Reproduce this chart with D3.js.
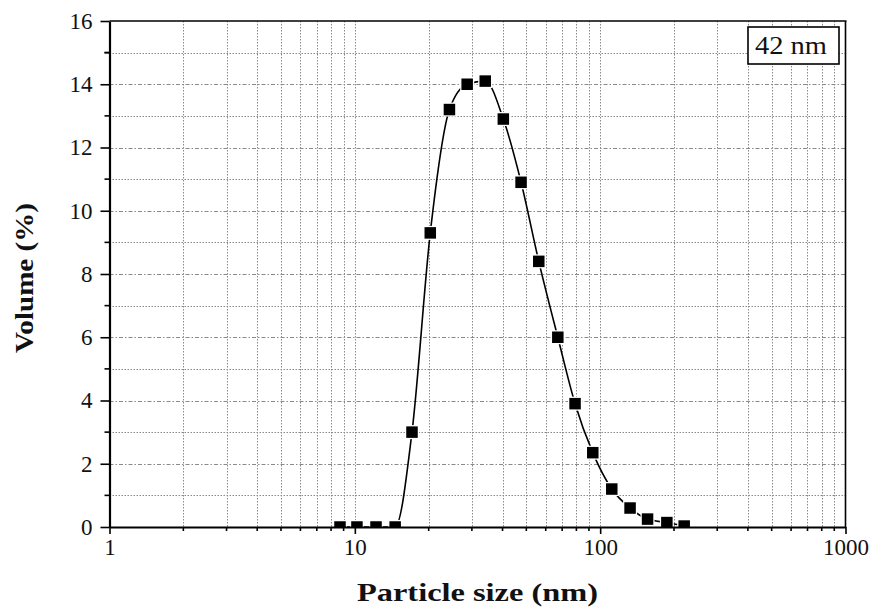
<!DOCTYPE html>
<html>
<head>
<meta charset="utf-8">
<script src="https://cdn.jsdelivr.net/npm/d3@7"></script>
<style>
  html, body { margin: 0; padding: 0; background: #fff; }
  svg { display: block; }
  text { font-family: "Liberation Serif", "Times New Roman", serif; fill: #111; }
</style>
</head>
<body>
<svg id="chart" width="871" height="609"></svg>
<script>
// Particle size distribution (volume %) measured on a log size scale
const sizes   = [8.7, 10.2, 12.2, 14.6, 17.1, 20.3, 24.3, 28.7, 34.0, 40.3, 47.6, 56.2, 67.2, 79.0, 93.3, 111.5, 132.4, 156, 187, 220];
const volumes = [0, 0, 0, 0, 3.0, 9.3, 13.2, 14.0, 14.1, 12.9, 10.9, 8.4, 6.0, 3.9, 2.35, 1.2, 0.6, 0.25, 0.14, 0.03];
const xTickLabels = [1, 10, 100, 1000];
const yTickLabels = [0, 2, 4, 6, 8, 10, 12, 14, 16];
const peakLabel = "42 nm";
const xTitle = "Particle size (nm)";
const yTitle = "Volume (%)";

const svg = d3.select("#chart");
const margin = { left: 109.5, right: 871 - 845.5, top: 21, bottom: 609 - 527 };
const W = 871, H = 609;
const x0 = margin.left, x1 = W - margin.right, y0 = H - margin.bottom, y1 = margin.top;

const x = d3.scaleLog().domain([1, 1000]).range([x0, x1]);
const y = d3.scaleLinear().domain([0, 16]).range([y0, y1]);

// minor decade positions 2..9 and the interior decades
const minorX = [];
[1, 10, 100].forEach(d => { for (let k = 2; k <= 9; k++) minorX.push(d * k); });
const gridX = minorX.concat([10, 100]);
const minorY = d3.range(1, 16, 2);
const majorY = d3.range(2, 16, 2);

const grid = svg.append("g").attr("stroke", "#8a8a8a").attr("stroke-width", 1).attr("fill", "none");
grid.selectAll(".gx").data(gridX).join("line")
  .attr("x1", d => Math.round(x(d)) + 0.5).attr("x2", d => Math.round(x(d)) + 0.5)
  .attr("y1", y1).attr("y2", y0)
  .attr("stroke-dasharray", "1.5,1.5");
grid.selectAll(".gmin").data(minorY).join("line")
  .attr("x1", x0).attr("x2", x1)
  .attr("y1", d => Math.round(y(d)) + 0.5).attr("y2", d => Math.round(y(d)) + 0.5)
  .attr("stroke-dasharray", "1.5,1.5");
grid.selectAll(".gmaj").data(majorY).join("line")
  .attr("x1", x0).attr("x2", x1)
  .attr("y1", d => Math.round(y(d)) + 0.5).attr("y2", d => Math.round(y(d)) + 0.5)
  .attr("stroke-dasharray", "4,2,1.5,2");

// clip for data
svg.append("clipPath").attr("id", "plotClip")
  .append("rect").attr("x", x0).attr("y", y1).attr("width", x1 - x0).attr("height", y0 - y1);

const data = sizes.map((s, i) => ({ s, v: volumes[i] }));
const plot = svg.append("g").attr("clip-path", "url(#plotClip)");

const line = d3.line().x(d => x(d.s)).y(d => y(d.v)).curve(d3.curveMonotoneX);
plot.append("path").datum(data)
  .attr("d", line).attr("fill", "none").attr("stroke", "#000").attr("stroke-width", 1.6);

const sq = 11.5;
plot.selectAll("rect.pt").data(data).join("rect")
  .attr("class", "pt")
  .attr("x", d => x(d.s) - sq / 2).attr("y", d => y(d.v) - sq / 2)
  .attr("width", sq).attr("height", sq)
  .attr("fill", "#000").attr("stroke", "#fff").attr("stroke-width", 2.5)
  .attr("paint-order", "stroke");

// frame: top and right
svg.append("line").attr("x1", x0).attr("x2", x1 + 1).attr("y1", y1).attr("y2", y1)
  .attr("stroke", "#000").attr("stroke-width", 1.6);
svg.append("line").attr("x1", x1).attr("x2", x1).attr("y1", y1).attr("y2", y0)
  .attr("stroke", "#000").attr("stroke-width", 1.6);

// bottom axis
const xAxis = d3.axisBottom(x).tickValues(xTickLabels).tickSize(7).tickFormat(d3.format("d")).tickSizeOuter(0);
const gx = svg.append("g").attr("transform", `translate(0,${y0})`).call(xAxis);
gx.select(".domain").attr("stroke-width", 2.2);
gx.selectAll(".tick line").attr("stroke-width", 1.6);
gx.selectAll(".tick text").attr("font-size", 23).attr("font-family", "Liberation Serif, serif")
  .attr("fill", "#222").attr("dy", "0").attr("y", 28);
gx.selectAll(".minor").data(minorX).join("line").attr("class", "minor")
  .attr("x1", d => x(d)).attr("x2", d => x(d)).attr("y1", 0).attr("y2", 4)
  .attr("stroke", "#000").attr("stroke-width", 1.6);

// left axis
const yAxis = d3.axisLeft(y).tickValues(yTickLabels).tickSize(9).tickFormat(d3.format("d")).tickSizeOuter(0);
const gy = svg.append("g").attr("transform", `translate(${x0},0)`).call(yAxis);
gy.select(".domain").attr("stroke-width", 2.2);
gy.selectAll(".tick line").attr("stroke-width", 1.6);
gy.selectAll(".tick text").attr("font-size", 23).attr("font-family", "Liberation Serif, serif")
  .attr("fill", "#222").attr("x", -17);
gy.selectAll(".minor").data(minorY.concat([15])).join("line").attr("class", "minor")
  .attr("x1", 0).attr("x2", -5).attr("y1", d => y(d)).attr("y2", d => y(d))
  .attr("stroke", "#000").attr("stroke-width", 1.6);

// peak size label box
const box = svg.append("g");
box.append("rect").attr("x", 748).attr("y", 27).attr("width", 91).attr("height", 37)
  .attr("fill", "#fff").attr("stroke", "#000").attr("stroke-width", 1.6);
box.append("text").attr("x", 791).attr("y", 54).attr("text-anchor", "middle")
  .attr("font-size", 25).attr("textLength", 72).attr("lengthAdjust", "spacingAndGlyphs")
  .text(peakLabel);

// axis titles
svg.append("text").attr("x", 477.5).attr("y", 601).attr("text-anchor", "middle")
  .attr("font-size", 25).attr("font-weight", "bold")
  .attr("textLength", 241).attr("lengthAdjust", "spacingAndGlyphs").text(xTitle);
svg.append("text").attr("transform", `translate(33,${(y0 + y1) / 2 + 4}) rotate(-90)`)
  .attr("text-anchor", "middle").attr("font-size", 26).attr("font-weight", "bold")
  .attr("textLength", 150).attr("lengthAdjust", "spacingAndGlyphs").text(yTitle);
</script>
</body>
</html>
